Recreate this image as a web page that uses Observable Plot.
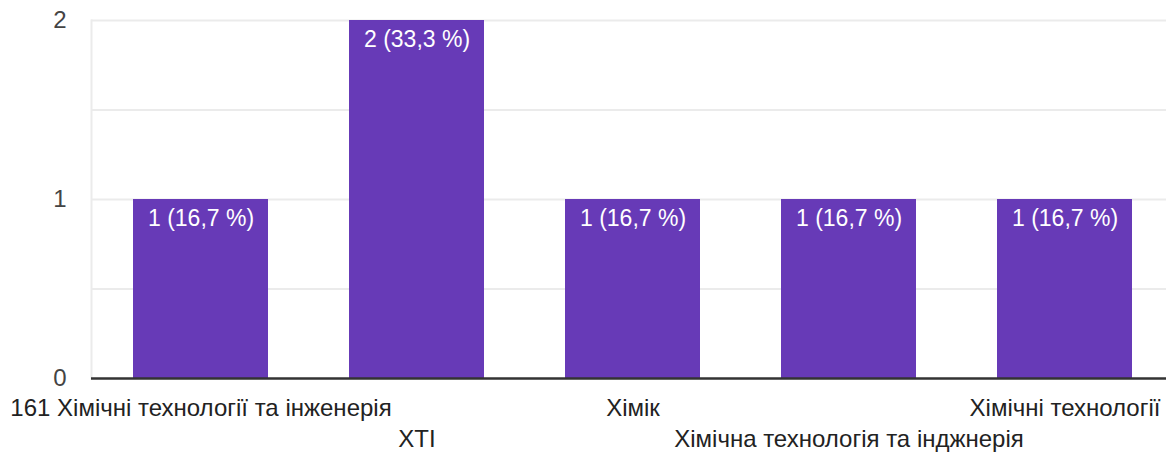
<!DOCTYPE html>
<html><head><meta charset="utf-8">
<script src="https://cdn.jsdelivr.net/npm/d3@7"></script>
<script src="https://cdn.jsdelivr.net/npm/@observablehq/plot@0.6"></script>
<style>body{margin:0;background:#fff;overflow:hidden}</style>
</head><body><div id="chart"></div>
<script>
const categories = [
  "161 Хімічні технології та інженерія",
  "XTI",
  "Хімік",
  "Хімічна технологія та інджнерія",
  "Хімічні технології"
];
const counts = [1, 2, 1, 1, 1];
const barLabels = ["1 (16,7 %)", "2 (33,3 %)", "1 (16,7 %)", "1 (16,7 %)", "1 (16,7 %)"];
const yTicks = [0, 1, 2];
const gridValues = [0.5, 1, 1.5, 2];
const upperRow = [categories[0], categories[2], categories[4]];
const lowerRow = [categories[1], categories[3]];

const data = categories.map((c, i) => ({category: c, count: counts[i], label: barLabels[i]}));

const chart = Plot.plot({
  width: 1166,
  height: 452,
  marginTop: 20,
  marginBottom: 74,
  marginLeft: 91,
  marginRight: 0,
  style: {fontFamily: "Arial, 'Liberation Sans', sans-serif", fontSize: "24px", background: "#fff"},
  x: {domain: categories, range: [90.9, 1174.2], paddingInner: 0.377, paddingOuter: 0.1885, align: 0.5, label: null},
  y: {domain: [0, 2], label: null},
  marks: [
    Plot.ruleY(gridValues, {stroke: "#ebebeb", strokeWidth: 2}),
    Plot.frame({anchor: "left", stroke: "#ebebeb", strokeWidth: 2}),
    Plot.barY(data, {x: "category", y: "count", fill: "#673ab7"}),
    Plot.text(data, {x: "category", y: "count", text: "label", dy: 19, fill: "#ffffff", fontSize: 23}),
    Plot.ruleY([0], {stroke: "#333333", strokeWidth: 2.5}),
    Plot.axisY({ticks: yTicks, tickSize: 0, tickPadding: 25, tickFormat: d => String(d), fill: "#444", label: null}),
    Plot.axisX({ticks: upperRow, tickSize: 0, tickPadding: 20, fill: "#222", label: null}),
    Plot.axisX({ticks: lowerRow, tickSize: 0, tickPadding: 51, fill: "#222", label: null})
  ]
});
document.getElementById("chart").append(chart);
</script>
</body></html>
